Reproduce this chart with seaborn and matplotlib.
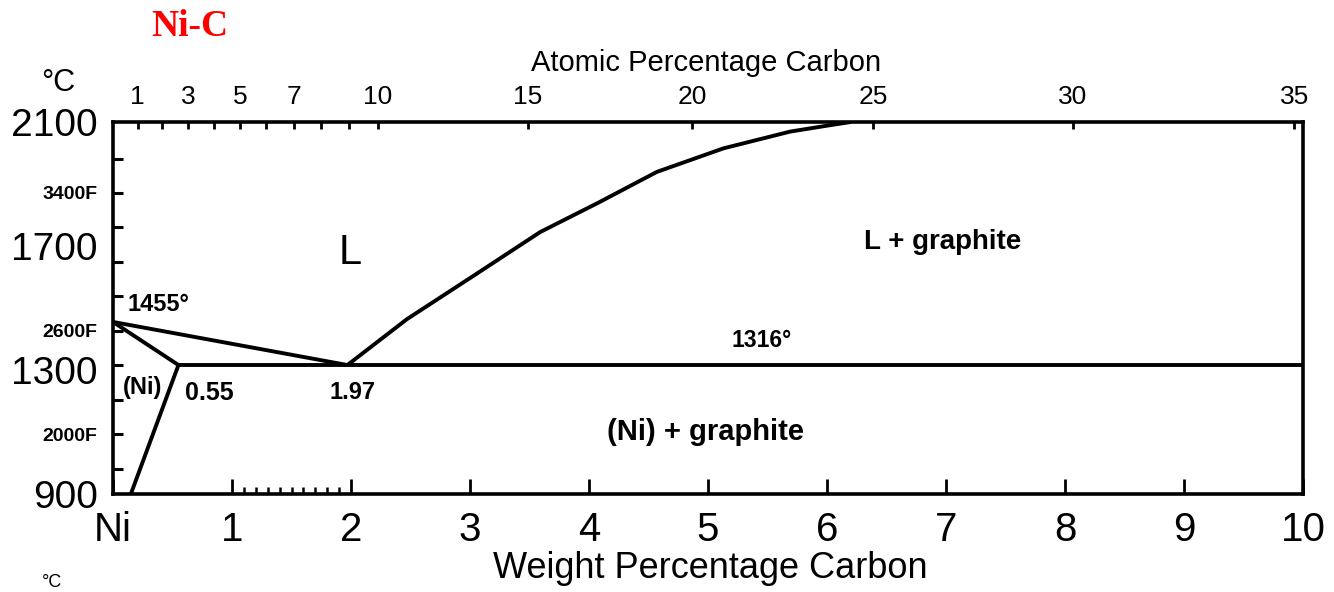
import numpy as np
import pandas as pd
import matplotlib
matplotlib.use("Agg")
import matplotlib.pyplot as plt
from matplotlib import font_manager
import seaborn as sns

# ---------------- data ----------------
title = "Ni-C"
x_label = "Weight Percentage Carbon"
top_label = "Atomic Percentage Carbon"

# bottom axis (weight % C)
wt_ticks = [0, 1, 2, 3, 4, 5, 6, 7, 8, 9, 10]
wt_labels = ["Ni", "1", "2", "3", "4", "5", "6", "7", "8", "9", "10"]
wt_minor = [1.1, 1.2, 1.3, 1.4, 1.5, 1.6, 1.7, 1.8, 1.9]

# top axis (atomic % C)
at_ticks = [1, 2, 3, 4, 5, 6, 7, 8, 9, 10, 15, 20, 25, 30, 35]
at_labels = ["1", "", "3", "", "5", "", "7", "", "", "10", "15", "20", "25", "30", "35"]

# left axis (deg C labels, deg F ticks)
c_ticks = [900, 1300, 1700, 2100]
c_labels = ["900", "1300", "1700", "2100"]
f_ticks = [1800, 2000, 2200, 2400, 2600, 2800, 3000, 3200, 3400, 3600]
f_labels = ["", "2000F", "", "", "2600F", "", "", "", "3400F", ""]

# phase boundaries (wt% C, deg C)
liq_ni_x = [0.0, 1.97]
liq_ni_t = [1455, 1316]
liq_gr_x = [1.97, 2.47, 3.03, 3.59, 4.08, 4.57, 5.13, 5.69, 6.03, 6.20]
liq_gr_t = [1316, 1464, 1604, 1745, 1840, 1939, 2015, 2069, 2090, 2100]
solidus_x = [0.0, 0.55]
solidus_t = [1455, 1316]
solvus_x = [0.55, 0.15]
solvus_t = [1316, 900]
eut_x = [0.55, 10.0]
eut_t = [1316, 1316]

# annotations: (text, wt%, degC, size, weight)
labels = [
    ("L", 1.99, 1679, 30, "normal"),
    ("L + graphite", 6.97, 1712, 20, "bold"),
    ("1455°", 0.38, 1511, 17, "bold"),
    ("1316°", 5.45, 1394, 16.5, "bold"),
    ("(Ni)", 0.25, 1242, 17, "bold"),
    ("0.55", 0.81, 1226, 18, "bold"),
    ("1.97", 2.01, 1226, 17, "bold"),
    ("(Ni) + graphite", 4.98, 1100, 21, "bold"),
]

# ---------------- style ----------------
sns.set_theme(style="white")
avail = {f.name for f in font_manager.fontManager.ttflist}
sans = "Liberation Sans Narrow" if "Liberation Sans Narrow" in avail else "Liberation Sans"
plt.rcParams["font.family"] = [sans, "DejaVu Sans"]
plt.rcParams["text.color"] = "black"
plt.rcParams["xtick.color"] = "black"
plt.rcParams["ytick.color"] = "black"

fig = plt.figure(figsize=(13.34, 5.92), dpi=100)
ax = fig.add_axes([113 / 1334, 1 - 494 / 592, (1303 - 113) / 1334, (494 - 122) / 592])

lw = 2.8
for xs, ts in [(liq_ni_x, liq_ni_t), (liq_gr_x, liq_gr_t), (solidus_x, solidus_t),
               (solvus_x, solvus_t), (eut_x, eut_t)]:
    df = pd.DataFrame({"wt": xs, "T": ts})
    sns.lineplot(data=df, x="wt", y="T", ax=ax, color="black", linewidth=lw,
                 sort=False, estimator=None, solid_capstyle="butt",
                 solid_joinstyle="round")

ax.set_xlim(0, 10)
ax.set_ylim(900, 2100)
ax.set_xlabel("")
ax.set_ylabel("")

for sp in ax.spines.values():
    sp.set_visible(True)
    sp.set_color("black")
    sp.set_linewidth(2.6)

# bottom axis
ax.set_xticks(wt_ticks)
ax.set_xticklabels(wt_labels, fontsize=29)
ax.set_xticks(wt_minor, minor=True)
ax.tick_params(axis="x", which="major", direction="in", length=11, width=2.0, pad=12, bottom=True)
ax.tick_params(axis="x", which="minor", direction="in", length=5, width=1.8, bottom=True)

# left axis
f_pos = [(f - 32) * 5 / 9 for f in f_ticks]
ax.set_yticks(c_ticks)
ax.set_yticklabels(c_labels, fontsize=28)
ax.set_yticks(f_pos, minor=True)
ax.set_yticklabels(f_labels, minor=True, fontsize=14, fontweight="bold")
ax.tick_params(axis="y", which="major", length=0, pad=11, left=True)
ax.tick_params(axis="y", which="minor", direction="in", length=7, width=2.2, pad=11, left=True)

# top axis: atomic percent
def w2a(w):
    w = np.asarray(w, dtype=float)
    c = w / 12.011
    n = (100 - w) / 58.69
    return 100 * c / (c + n)

def a2w(a):
    a = np.asarray(a, dtype=float)
    c = a * 12.011
    n = (100 - a) * 58.69
    return 100 * c / (c + n)

sec = ax.secondary_xaxis("top", functions=(w2a, a2w))
sec.set_xticks(at_ticks)
sec.set_xticklabels(at_labels, fontsize=19)
sec.tick_params(axis="x", direction="in", length=5, width=2.0, pad=9)
sec.spines["top"].set_visible(False)

# region / point labels
for txt, xw, tc, fs, fw in labels:
    ax.text(xw, tc, txt, fontsize=fs, fontweight=fw, ha="center", va="center")

# figure texts
fig.text(190 / 1334, 1 - 26 / 592, title, color="#ff0000", fontsize=27,
         fontweight="bold", family="Liberation Serif", ha="center", va="center")
fig.text(58 / 1334, 1 - 83 / 592, "°C", fontsize=22, ha="center", va="center")
fig.text(706 / 1334, 1 - 63 / 592, top_label, fontsize=21, ha="center", va="center")
fig.text(710 / 1334, 1 - 568 / 592, x_label, fontsize=26, ha="center", va="center")
fig.text(52 / 1334, 1 - 574 / 592, "°C", fontsize=13, ha="center", va="top")

fig.savefig("out.png", dpi=100)
